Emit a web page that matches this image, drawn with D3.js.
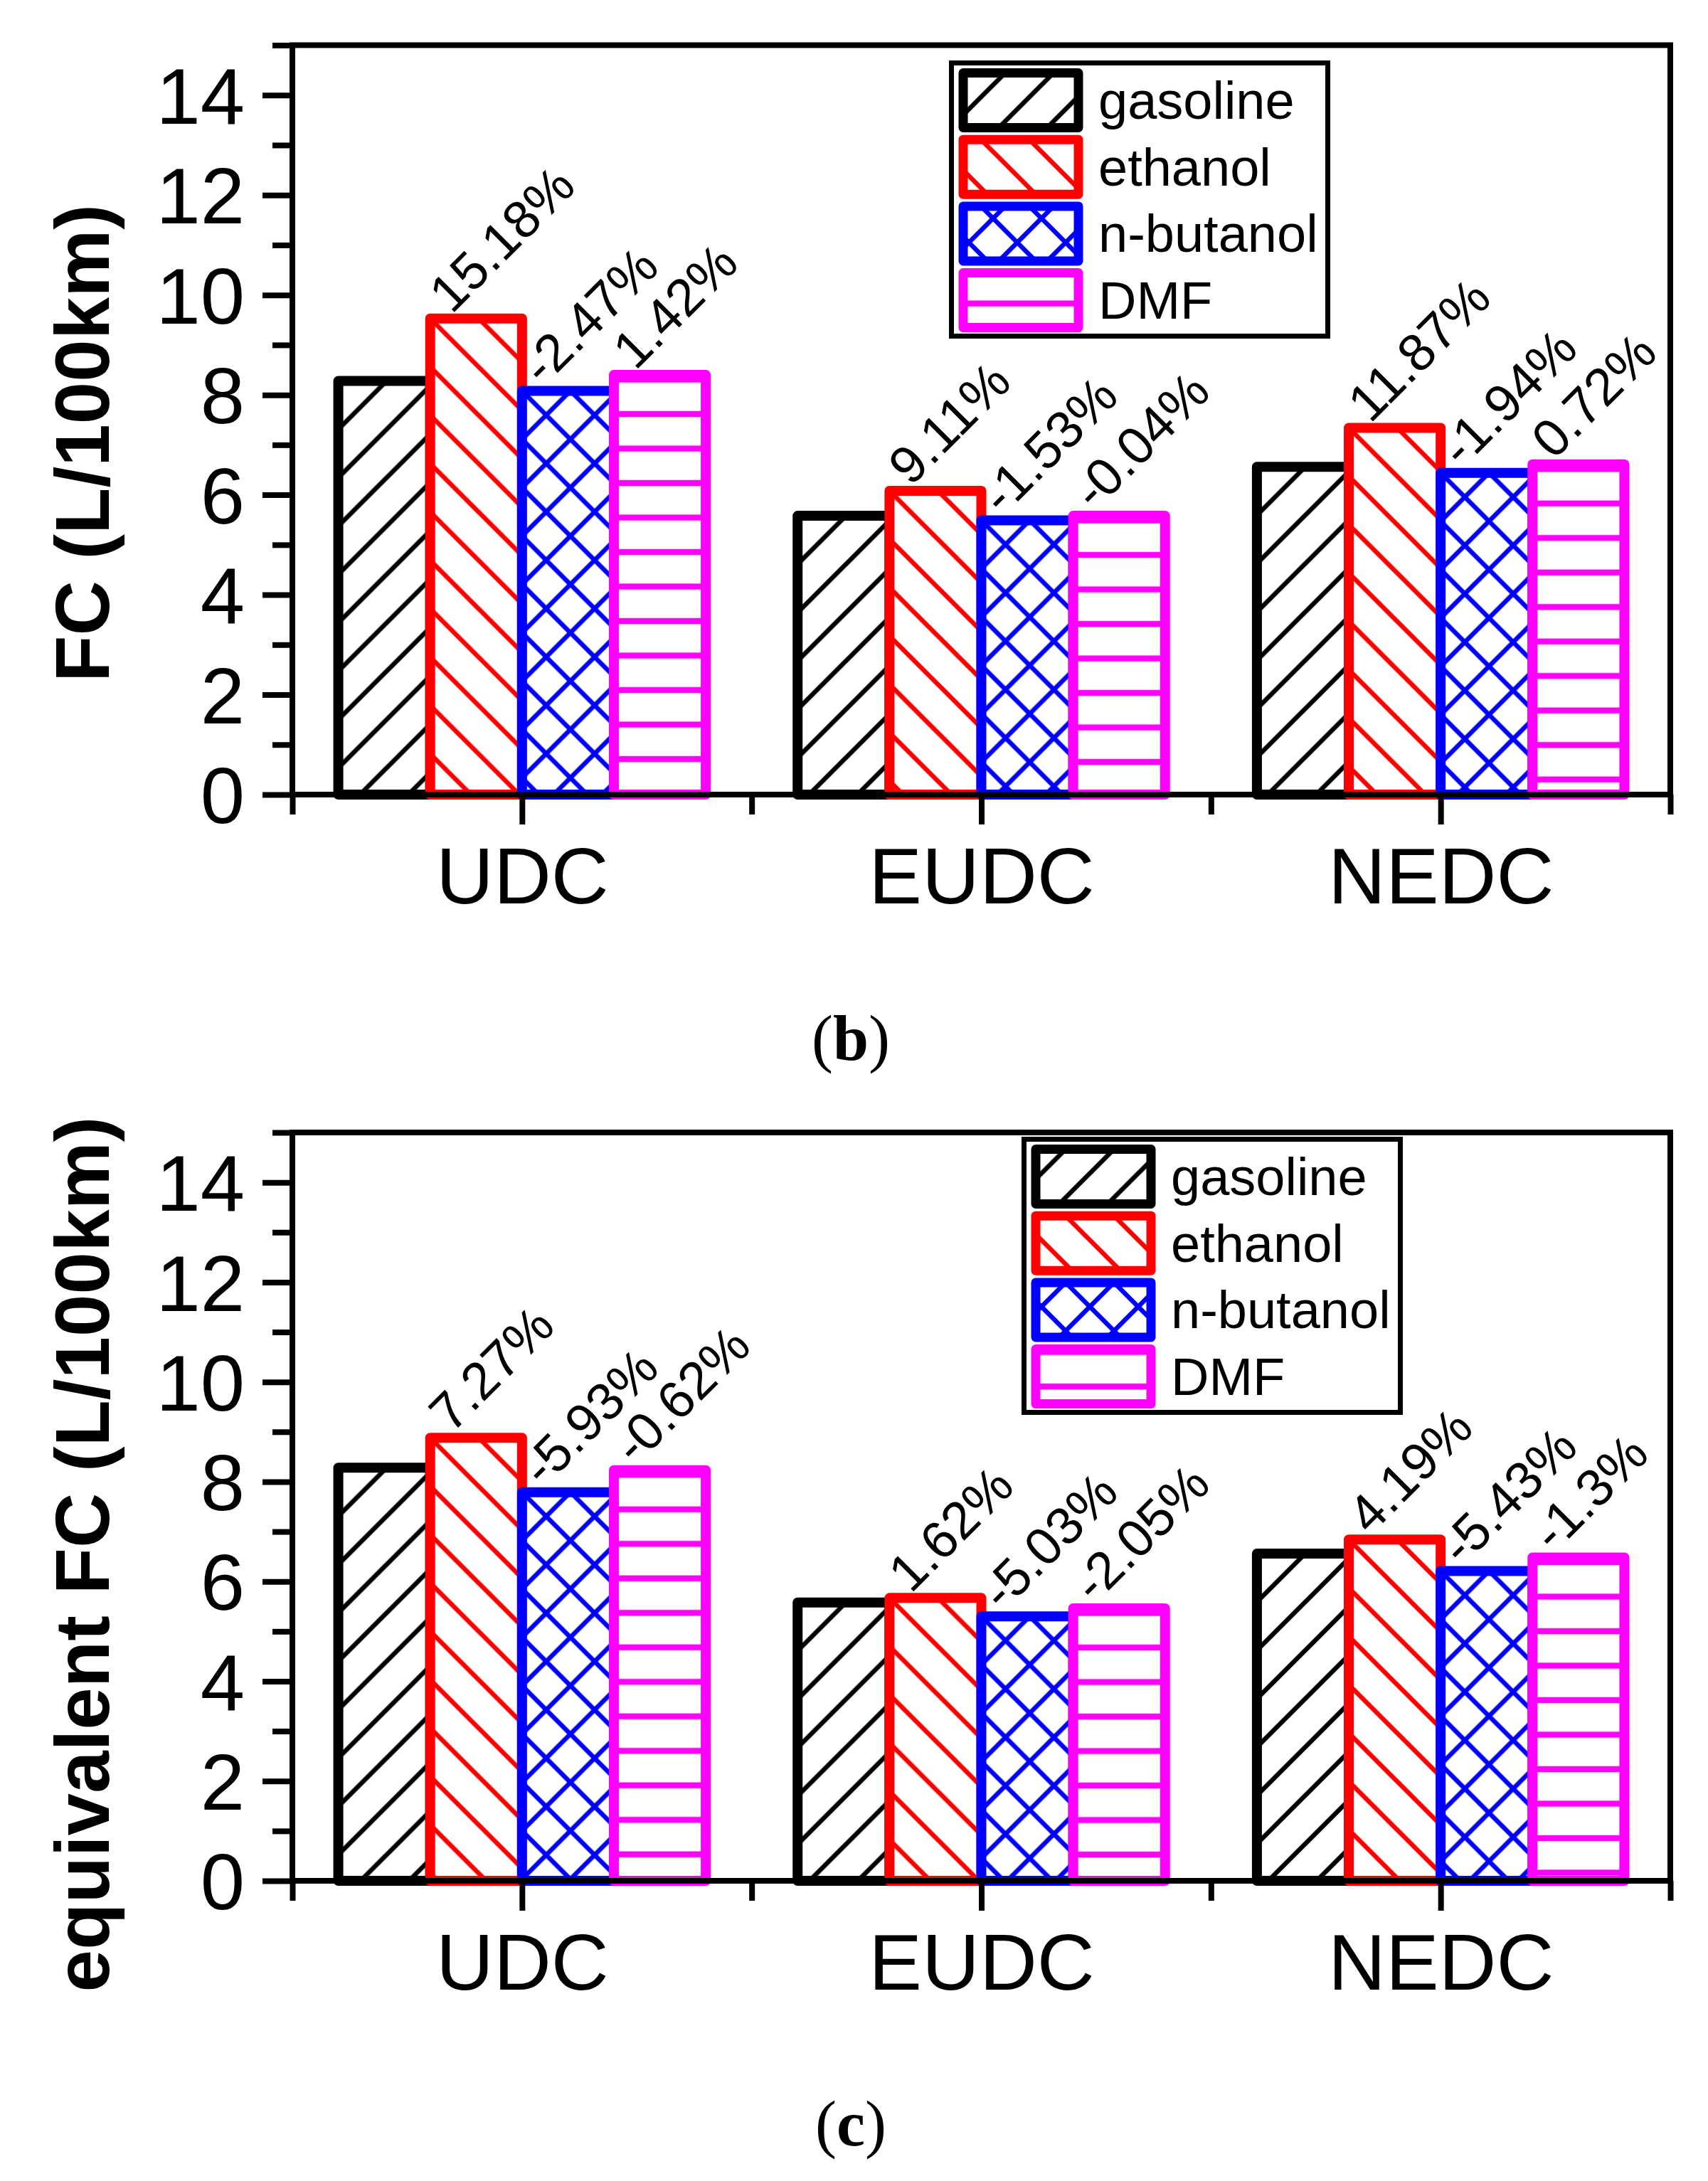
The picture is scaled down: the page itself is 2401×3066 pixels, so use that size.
<!DOCTYPE html>
<html>
<head>
<meta charset="utf-8">
<script src="https://cdn.jsdelivr.net/npm/d3@7"></script>
<style>
  html, body { margin: 0; padding: 0; background: #fff; }
  svg { display: block; }
</style>
</head>
<body>
<svg id="chart" width="2401" height="3066"></svg>
<script>
// ---------------- data ----------------
const categories = ["UDC", "EUDC", "NEDC"];
const fuels = ["gasoline", "ethanol", "n-butanol", "DMF"];
const fuelColors = ["#000000", "#ff0000", "#0000ff", "#ff00ff"];
const fuelHatches = ["fwd", "back", "cross", "horiz"];

// panel (b): FC (L/100km)
const gasolineFC = [8.28, 5.58, 6.56];
const ethanolFC  = [9.53, 6.08, 7.34];
const butanolFC  = [8.08, 5.49, 6.44];
const dmfFC      = [8.40, 5.58, 6.61];
const ethanolFCChange = ["15.18%", "9.11%", "11.87%"];
const butanolFCChange = ["-2.47%", "-1.53%", "-1.94%"];
const dmfFCChange     = ["1.42%", "-0.04%", "0.72%"];

// panel (c): equivalent FC (L/100km)
const gasolineEqFC = [8.28, 5.58, 6.56];
const ethanolEqFC  = [8.88, 5.67, 6.84];
const butanolEqFC  = [7.79, 5.30, 6.21];
const dmfEqFC      = [8.23, 5.46, 6.48];
const ethanolEqChange = ["7.27%", "1.62%", "4.19%"];
const butanolEqChange = ["-5.93%", "-5.03%", "-5.43%"];
const dmfEqChange     = ["-0.62%", "-2.05%", "-1.3%"];

const yMajorTicks = [0, 2, 4, 6, 8, 10, 12, 14];
const yMinorTicks = [1, 3, 5, 7, 9, 11, 13, 15];
const yDomain = [0, 15];

// ---------------- layout ----------------
const svg = d3.select("#chart");
svg.append("rect").attr("width", 2401).attr("height", 3066).attr("fill", "#fff");
const defs = svg.append("defs");
const FONT = "'Liberation Sans', Arial, Helvetica, sans-serif";
let patCount = 0;

function makePattern(type, color, x0, y0) {
  const id = "pat" + (patCount++);
  if (type === "horiz") {
    const p = defs.append("pattern").attr("id", id)
      .attr("patternUnits", "userSpaceOnUse")
      .attr("x", x0).attr("y", y0 + 6.5).attr("width", 200).attr("height", 48.5);
    p.append("path").attr("d", "M-5,0 L205,0 M-5,48.5 L205,48.5")
      .attr("stroke", color).attr("stroke-width", 8.5).attr("fill", "none");
    return id;
  }
  const s = 68;
  const p = defs.append("pattern").attr("id", id)
    .attr("patternUnits", "userSpaceOnUse")
    .attr("x", x0).attr("y", y0).attr("width", s).attr("height", s);
  let d = "";
  if (type === "fwd" || type === "cross") {
    d += `M${-s/4},${s/4} L${s/4},${-s/4} M0,${s} L${s},0 M${3*s/4},${5*s/4} L${5*s/4},${3*s/4} `;
  }
  if (type === "back" || type === "cross") {
    d += `M0,0 L${s},${s} M${-s/4},${3*s/4} L${s/4},${5*s/4} M${3*s/4},${-s/4} L${5*s/4},${s/4}`;
  }
  p.append("path").attr("d", d).attr("stroke", color)
    .attr("stroke-width", 6.5).attr("fill", "none").attr("stroke-linecap", "square");
  return id;
}

function drawPanel(cfg) {
  const g = svg.append("g");
  const x = d3.scaleLinear().domain([0.5, 3.5]).range([411, 2348]);
  const y = d3.scaleLinear().domain(yDomain).range([cfg.bottom, cfg.top]);
  const barW = x(0.2) - x(0);

  // bars
  cfg.series.forEach((vals, fi) => {
    vals.forEach((v, ci) => {
      const cx = x(ci + 1 + (fi - 1.5) * 0.2);
      const bx = cx - barW / 2;
      const by = y(v);
      const bh = y(0) - y(v);
      const pid = makePattern(fuelHatches[fi], fuelColors[fi], bx, by);
      g.append("rect").attr("x", bx).attr("y", by).attr("width", barW).attr("height", bh)
        .attr("fill", "#fff");
      g.append("rect").attr("x", bx).attr("y", by).attr("width", barW).attr("height", bh)
        .attr("fill", `url(#${pid})`)
        .attr("stroke", fuelColors[fi]).attr("stroke-width", 14).attr("stroke-linejoin", "round");
    });
  });

  // percentage labels
  cfg.labels.forEach((labs, k) => {
    const fi = k + 1;
    labs.forEach((t, ci) => {
      const cx = x(ci + 1 + (fi - 1.5) * 0.2);
      const bx = cx - barW / 2;
      const by = y(cfg.series[fi][ci]);
      g.append("text")
        .attr("transform", `translate(${bx + 30},${by - 5}) rotate(-45)`)
        .attr("font-family", FONT).attr("font-size", 74).attr("fill", "#000")
        .text(t);
    });
  });

  // frame
  g.append("rect").attr("x", x(0.5)).attr("y", cfg.top)
    .attr("width", x(3.5) - x(0.5)).attr("height", cfg.bottom - cfg.top)
    .attr("fill", "none").attr("stroke", "#000").attr("stroke-width", 8);

  // y axis
  const yMajor = g.append("g").attr("transform", `translate(${x(0.5)},0)`)
    .call(d3.axisLeft(y).tickValues(yMajorTicks).tickSize(42).tickPadding(25).tickFormat(d3.format("d")));
  const yMinor = g.append("g").attr("transform", `translate(${x(0.5)},0)`)
    .call(d3.axisLeft(y).tickValues(yMinorTicks).tickSize(28).tickFormat(""));
  // x axis
  const xMajor = g.append("g").attr("transform", `translate(0,${cfg.bottom})`)
    .call(d3.axisBottom(x).tickValues([1, 2, 3]).tickSize(42).tickPadding(31)
      .tickFormat(d => categories[d - 1]));
  const xMinor = g.append("g").attr("transform", `translate(0,${cfg.bottom})`)
    .call(d3.axisBottom(x).tickValues([0.5, 1.5, 2.5, 3.5]).tickSize(28).tickFormat(""));
  [yMajor, yMinor, xMajor, xMinor].forEach(a => {
    a.select(".domain").remove();
    a.selectAll(".tick line").attr("stroke", "#000").attr("stroke-width", 8);
    a.selectAll(".tick text").attr("font-family", FONT).attr("font-size", 112).attr("fill", "#000");
  });
  yMajor.selectAll(".tick text").attr("dy", "0.355em");

  // y title
  g.append("text")
    .attr("transform", `translate(153,${cfg.titleY}) rotate(-90)`)
    .attr("text-anchor", "middle").attr("font-family", FONT)
    .attr("font-weight", "bold").attr("font-size", 107).attr("fill", "#000")
    .text(cfg.title);

  // legend
  const lg = g.append("g").attr("transform", `translate(${cfg.legendX},${cfg.legendY})`);
  lg.append("rect").attr("x", 3.5).attr("y", 3.5).attr("width", 529).attr("height", 384)
    .attr("fill", "#fff").attr("stroke", "#000").attr("stroke-width", 7);
  fuels.forEach((f, i) => {
    const sx = cfg.legendX + 20, sy = cfg.legendY + 17.5 + i * 93.7;
    const pid = makePattern(fuelHatches[i], fuelColors[i], sx, sy);
    lg.append("rect").attr("x", 20).attr("y", 17.5 + i * 93.7).attr("width", 162).attr("height", 77)
      .attr("fill", `url(#${pid})`).attr("stroke", fuelColors[i]).attr("stroke-width", 13)
      .attr("stroke-linejoin", "round");
    lg.append("text").attr("x", 210).attr("y", 82 + i * 93.6)
      .attr("font-family", FONT).attr("font-size", 74).attr("fill", "#000").text(f);
  });

  // panel label
  const pl = svg.append("text").attr("x", 1196).attr("y", cfg.panelY)
    .attr("text-anchor", "middle").attr("font-family", "'Liberation Serif', 'Times New Roman', serif")
    .attr("font-size", 90).attr("fill", "#000");
  pl.append("tspan").text("(");
  pl.append("tspan").attr("font-weight", "bold").text(cfg.panel);
  pl.append("tspan").text(")");
}

drawPanel({
  top: 63.5, bottom: 1117,
  series: [gasolineFC, ethanolFC, butanolFC, dmfFC],
  labels: [ethanolFCChange, butanolFCChange, dmfFCChange],
  title: "FC (L/100km)", titleY: 623,
  legendX: 1334, legendY: 85,
  panel: "b", panelY: 1490
});

drawPanel({
  top: 1592, bottom: 2644,
  series: [gasolineEqFC, ethanolEqFC, butanolEqFC, dmfEqFC],
  labels: [ethanolEqChange, butanolEqChange, dmfEqChange],
  title: "equivalent FC (L/100km)", titleY: 2185,
  legendX: 1436, legendY: 1598,
  panel: "c", panelY: 3016
});
</script>
</body>
</html>
